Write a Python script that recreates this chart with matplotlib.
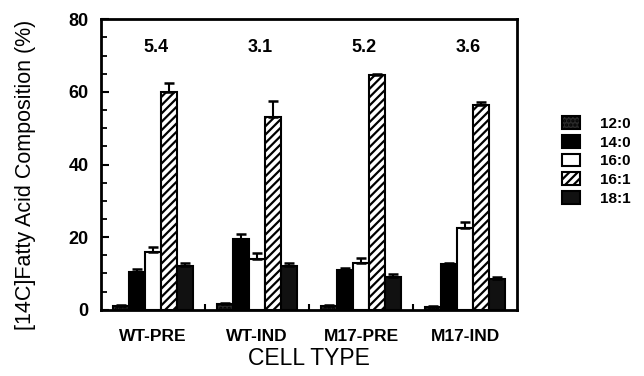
import numpy as np
import matplotlib.pyplot as plt
from matplotlib.ticker import MultipleLocator

# data
cell_types = ['WT-PRE', 'WT-IND', 'M17-PRE', 'M17-IND']
fatty_acids = ['12:0', '14:0', '16:0', '16:1', '18:1']
ratios = ['5.4', '3.1', '5.2', '3.6']

fa_12_0 = [1.0, 1.5, 1.0, 0.7]
fa_14_0 = [10.5, 19.5, 11.0, 12.5]
fa_16_0 = [16.0, 14.0, 12.8, 22.5]
fa_16_1 = [60.0, 53.0, 64.5, 56.5]
fa_18_1 = [12.0, 12.0, 9.0, 8.5]

err_12_0 = [0.3, 0.5, 0.3, 0.3]
err_14_0 = [0.8, 1.5, 0.5, 0.5]
err_16_0 = [1.2, 1.6, 1.4, 1.8]
err_16_1 = [2.5, 4.4, 0.5, 0.8]
err_18_1 = [0.8, 0.8, 0.8, 0.5]

values = [fa_12_0, fa_14_0, fa_16_0, fa_16_1, fa_18_1]
errors = [err_12_0, err_14_0, err_16_0, err_16_1, err_18_1]
facecolors = ['#2a2a2a', 'black', 'white', 'white', '#111111']
hatches = ['....', None, None, '////', None]

plt.rcParams['font.family'] = ['Liberation Sans', 'DejaVu Sans']
plt.rcParams['hatch.linewidth'] = 1.6

fig = plt.figure(figsize=(6.44, 3.76), dpi=100)
ax = fig.add_axes([0.157, 0.176, 0.646, 0.773])

x = np.arange(len(cell_types))
width = 0.155
for i, (vals, errs) in enumerate(zip(values, errors)):
    pos = x + (i - 2) * width
    ax.bar(pos, vals, width, color=facecolors[i], edgecolor='black',
           linewidth=1.5, hatch=hatches[i], label=fatty_acids[i])
    ax.errorbar(pos, vals, yerr=[np.zeros(len(errs)), errs], fmt='none',
                ecolor='black', elinewidth=1.5, capsize=3.5, capthick=1.8)

for xi, r in zip(x, ratios):
    ax.text(xi + 0.03, 72.3, r, ha='center', va='center', fontsize=13,
            fontweight='bold')

ax.set_xlim(-0.5, 3.5)
ax.set_ylim(0, 80)
ax.set_xticks(x)
ax.set_xticklabels(cell_types, fontsize=12.5, fontweight='bold')
ax.set_xticks([0.5, 1.5, 2.5], minor=True)
ax.yaxis.set_major_locator(MultipleLocator(20))
ax.yaxis.set_minor_locator(MultipleLocator(5))
for lab in ax.get_yticklabels():
    lab.set_fontweight('bold')
    lab.set_fontsize(13)
ax.tick_params(axis='y', which='major', direction='in', length=6, width=1.5, pad=9)
ax.tick_params(axis='y', which='minor', direction='in', length=4, width=1.3)
ax.tick_params(axis='x', which='major', length=0, pad=14)
ax.tick_params(axis='x', which='minor', direction='in', length=4, width=1.5)
for s in ax.spines.values():
    s.set_linewidth(2)

ax.set_xlabel('CELL TYPE', fontsize=16.5)
ax.xaxis.set_label_coords(0.5, -0.128)
ax.set_ylabel('[14C]Fatty Acid Composition (%)', fontsize=15.5)
ax.yaxis.set_label_coords(-0.156, 0.464)

ax.legend(loc='center left', bbox_to_anchor=(1.075, 0.512), frameon=False,
          prop={'weight': 'bold', 'size': 11},
          handlelength=1.2, handleheight=0.9, labelspacing=0.27,
          handletextpad=1.3)

fig.savefig('out.png', dpi=100)
